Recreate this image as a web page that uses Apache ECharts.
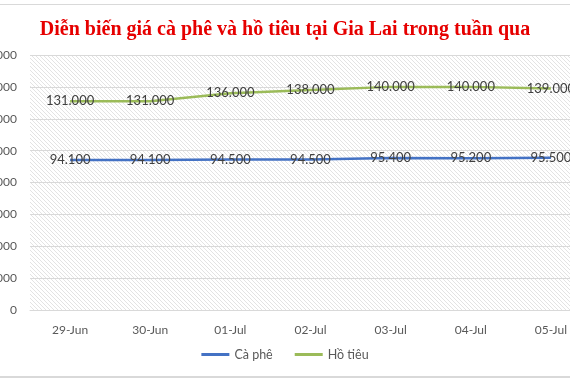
<!DOCTYPE html>
<html><head><meta charset="utf-8">
<script src="https://cdn.jsdelivr.net/npm/echarts@6/dist/echarts.min.js"></script>
<style>html,body{margin:0;padding:0;background:#fff}#c{width:570px;height:380px}</style>
</head><body><div id="c"></div>
<script>
const categories = ['29-Jun','30-Jun','01-Jul','02-Jul','03-Jul','04-Jul','05-Jul'];
const coffee = [94100, 94100, 94500, 94500, 95400, 95200, 95500];
const pepper = [131000, 131000, 136000, 138000, 140000, 140000, 139000];
const seriesNames = ['Cà phê', 'Hồ tiêu'];
const titleText = 'Diễn biến giá cà phê và hồ tiêu tại Gia Lai trong tuần qua';

function fmt(v){ return String(v).replace(/\B(?=(\d{3})+(?!\d))/g, '.'); }

const pc = document.createElement('canvas');
pc.width = 4; pc.height = 4;
const ctx = pc.getContext('2d');
ctx.fillStyle = '#ffffff'; ctx.fillRect(0,0,4,4);
ctx.strokeStyle = '#e3e3e3'; ctx.lineWidth = 1;
ctx.beginPath();
ctx.moveTo(0,0); ctx.lineTo(4,4);
ctx.moveTo(-2,2); ctx.lineTo(2,6);
ctx.moveTo(2,-2); ctx.lineTo(6,2);
ctx.stroke();

const chart = echarts.init(document.getElementById('c'));
const labelStyle = {show:true, position:'inside', color:'#404040', fontFamily:'Lato', fontSize:13, formatter: p => fmt(p.value)};
chart.setOption({
  animation:false,
  title:{text:titleText, left:'center', top:15, textStyle:{color:'#e60000', fontFamily:'Liberation Serif', fontWeight:'bold', fontSize:20}},
  legend:{bottom:14, left:'center', itemWidth:28, itemHeight:3, itemGap:22, icon:'rect', textStyle:{color:'#595959', fontFamily:'Lato', fontSize:12.5}, data:seriesNames},
  grid:{left:30, right:-21, top:55, bottom:70, containLabel:false, outerBoundsMode:'none', show:true, borderWidth:0, backgroundColor:{image:pc, repeat:'repeat'}},
  xAxis:{type:'category', data:categories, boundaryGap:true,
    axisLine:{lineStyle:{color:'#d9d9d9'}}, axisTick:{show:false},
    axisLabel:{color:'#595959', fontFamily:'Lato', fontSize:12, margin:14}},
  yAxis:{type:'value', min:0, max:160000, interval:20000,
    axisLine:{show:false}, axisTick:{show:false},
    splitLine:{lineStyle:{color:'#d9d9d9'}},
    axisLabel:{color:'#595959', fontFamily:'Lato', fontSize:12, margin:13, formatter: v => fmt(v)}},
  graphic:[
    {type:'rect', shape:{x:0,y:4,width:570,height:1}, style:{fill:'#d9d9d9'}},
    {type:'rect', shape:{x:0,y:376,width:570,height:2}, style:{fill:'#d9d9d9'}}
  ],
  series:[
    {name:seriesNames[0], type:'line', data:coffee, symbol:'circle', symbolSize:0.1, showSymbol:true, lineStyle:{color:'#4472c4', width:2.5}, itemStyle:{color:'#4472c4'}, label:labelStyle, labelLayout:{hideOverlap:false}},
    {name:seriesNames[1], type:'line', data:pepper, symbol:'circle', symbolSize:0.1, showSymbol:true, lineStyle:{color:'#9bbb59', width:2.5}, itemStyle:{color:'#9bbb59'}, label:labelStyle, labelLayout:{hideOverlap:false}}
  ]
});
</script></body></html>
